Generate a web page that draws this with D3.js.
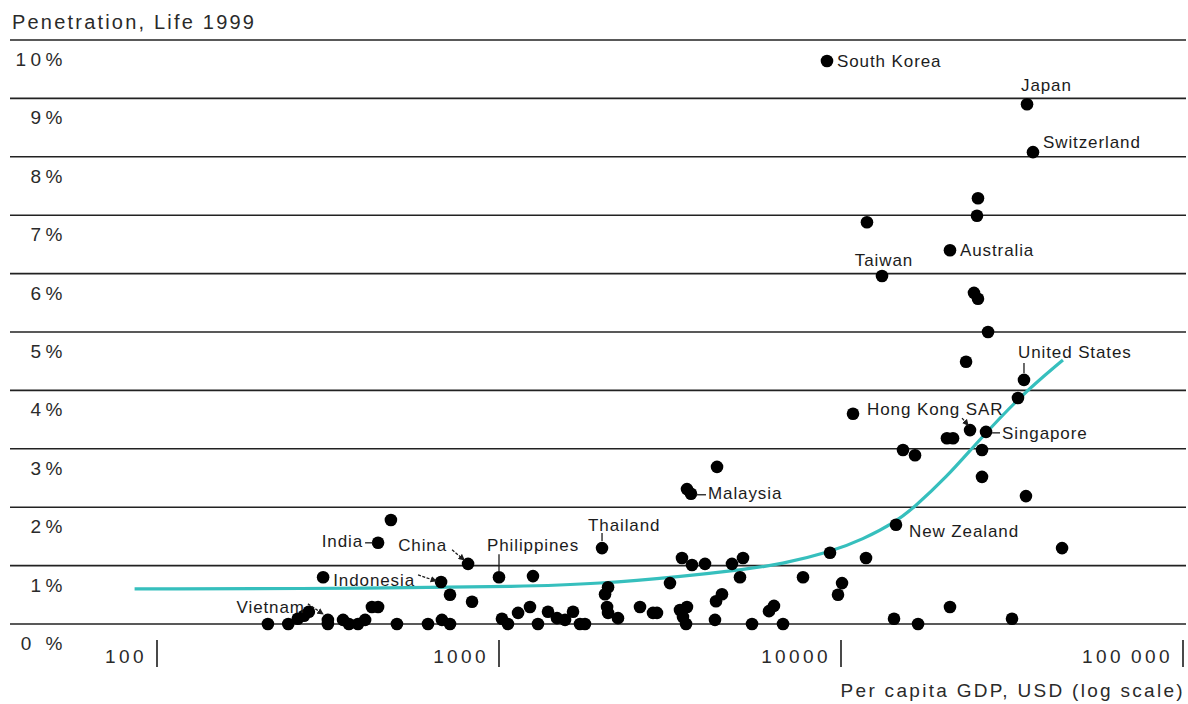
<!DOCTYPE html>
<html>
<head>
<meta charset="utf-8">
<script src="https://cdn.jsdelivr.net/npm/d3@7"></script>
<style>
  html, body { margin: 0; padding: 0; background: #fff; }
  svg { display: block; font-family: "Liberation Sans", Arial, sans-serif; }
</style>
</head>
<body>
<svg id="chart" width="1188" height="704"></svg>
<script>
// ---------------- DATA ----------------
const title = "Penetration, Life 1999";
const xTitle = "Per capita GDP, USD (log scale)";
const yTicks = [0, 1, 2, 3, 4, 5, 6, 7, 8, 9, 10];
const yTickLabels = ["0 %", "1%", "2%", "3%", "4%", "5%", "6%", "7%", "8%", "9%", "10%"];
const xTicks = [100, 1000, 10000, 100000];
const xTickLabels = ["100", "1000", "10000", "100\u2009000"];

// per capita GDP (USD) of each market
const gdpUSD = [211, 242, 258, 269, 278, 316, 316, 350, 364, 387, 406, 425, 443, 503, 620, 681, 719, 719, 677, 306,
  443, 483, 812, 834, 1000, 1257, 1020, 1062, 1137, 1232, 1300, 1391, 1478, 1560, 1646, 1725, 1784, 2001, 2042, 2084,
  2070, 2084, 2228, 2584, 2820, 2897, 3162, 3382, 3545, 3451, 3523, 3428, 3667, 4003, 4800, 5170, 5066, 4311, 4487, 4281,
  5493, 6159, 6368, 6768, 3545, 3642, 4340, 7743, 9287, 10070, 9800, 11833, 10842, 14480, 14290, 16800, 20830, 31623, 44300, 34740,
  25840, 25840, 15180, 16460, 20410, 21260, 23840, 26550, 32920, 34280, 23210, 26910, 24480, 25150, 13180, 20830, 11910, 24980, 25150, 36420,
  34990, 9100];
// life insurance penetration (premiums in % of GDP)
const lifePct = [0, 0, 0.09, 0.14, 0.21, 0.07, 0, 0.07, 0, 0, 0.07, 0.29, 0.29, 0, 0, 0.07, 0, 0.50, 0.72, 0.80,
  1.39, 1.78, 1.03, 0.38, 0.80, 0.82, 0.09, 0, 0.19, 0.29, 0, 0.21, 0.10, 0.07, 0.21, 0, 0, 1.30, 0.51, 0.63,
  0.29, 0.19, 0.10, 0.29, 0.19, 0.19, 0.70, 0.24, 0.29, 0.12, 0, 1.13, 1.01, 1.03, 1.03, 1.13, 0.80, 0.39, 0.51, 0.07,
  0, 0.22, 0.31, 0, 2.31, 2.23, 2.69, 0.80, 1.22, 0.70, 0.50, 1.13, 3.60, 1.70, 0.09, 0, 0.29, 0.09, 1.30, 2.19,
  2.52, 2.98, 2.98, 2.89, 3.18, 3.18, 3.32, 3.29, 3.87, 4.18, 4.49, 5.00, 5.67, 5.57, 5.96, 6.40, 6.88, 6.99, 7.29, 8.08,
  8.90, 9.64];
// names of the labelled markets (index into the arrays above)
const labelIndex = [101, 100, 99, 94, 95, 89, 86, 87, 73, 65, 37, 24, 22, 20, 18, 5];
const labelNames = ["South Korea", "Japan", "Switzerland", "Taiwan", "Australia", "United States", "Hong Kong SAR",
  "Singapore", "New Zealand", "Malaysia", "Thailand", "Philippines", "China", "India", "Indonesia", "Vietnam"];

// trend curve
const trendGdp = [86, 464, 1151, 1972, 3381, 5308, 6631, 9290, 11600, 14380, 16250, 20400, 24660, 33360, 44560];
const trendPct = [0.60, 0.61, 0.64, 0.69, 0.81, 0.94, 1.02, 1.23, 1.45, 1.74, 1.98, 2.52, 3.07, 3.90, 4.52];

// ---------------- LAYOUT / STYLE ----------------
const ink = "#1c1c1c";
const teal = "#36bfbd";
const labelLayout = {
  "South Korea":   { dx: 10,  dy: 6,   anchor: "start" },
  "Japan":         { dx: -6,  dy: -13, anchor: "start" },
  "Switzerland":   { dx: 10,  dy: -4,  anchor: "start" },
  "Taiwan":        { dx: 2,   dy: -10, anchor: "middle" },
  "Australia":     { dx: 10,  dy: 6,   anchor: "start" },
  "United States": { dx: -6,  dy: -22, anchor: "start", leader: [[0, -7], [0, -17]] },
  "Hong Kong SAR": { dx: -103, dy: -15, anchor: "start", leader: [[-2, -5], [-8, -12]], arrow: true },
  "Singapore":     { dx: 16,  dy: 7,   anchor: "start", leader: [[6, 1], [14, 1]] },
  "New Zealand":   { dx: 13,  dy: 12,  anchor: "start" },
  "Malaysia":      { dx: 17,  dy: 5,   anchor: "start", leader: [[5, 1], [15, 1]] },
  "Thailand":      { dx: -14, dy: -17, anchor: "start", leader: [[0, -7], [0, -15]] },
  "Philippines":   { dx: -12, dy: -26, anchor: "start", leader: [[0, -6], [0, -23]] },
  "China":         { dx: -21, dy: -13, anchor: "end", leader: [[-4, -4], [-16, -14]], arrow: true },
  "India":         { dx: -15, dy: 4,   anchor: "end", leader: [[-5, 0], [-13, 0]] },
  "Indonesia":     { dx: -26, dy: 4,   anchor: "end", leader: [[-5, -1], [-23, -7]], arrow: true },
  "Vietnam":       { dx: -23, dy: -7,  anchor: "end", leader: [[-5, -6], [-20, -16]], arrow: true }
};

const svg = d3.select("#chart");
const x = d3.scaleLog().domain([100, 100000]).range([157, 1183]);
const y = d3.scaleLinear().domain([0, 10]).range([624, 40]);

svg.append("defs").append("marker")
  .attr("id", "arr").attr("viewBox", "0 0 6 6").attr("refX", 5).attr("refY", 3)
  .attr("markerWidth", 5).attr("markerHeight", 5).attr("orient", "auto")
  .append("path").attr("d", "M0,0 L6,3 L0,6 z").attr("fill", ink);

// title
svg.append("text").attr("x", 12).attr("y", 29).text(title)
  .attr("font-size", 20).attr("letter-spacing", 2.2).attr("fill", "#2a2a2a");

// horizontal grid lines + y labels
svg.append("g").selectAll("line").data(yTicks).join("line")
  .attr("x1", 10).attr("x2", 1186)
  .attr("y1", d => y(d)).attr("y2", d => y(d))
  .attr("stroke", "#222").attr("stroke-width", 1.6);

svg.append("g").selectAll("text").data(yTicks).join("text")
  .attr("x", 67).attr("y", d => y(d) + 26)
  .attr("text-anchor", "end")
  .attr("font-size", 19).attr("letter-spacing", 4.5).attr("fill", "#2a2a2a")
  .text((d, i) => yTickLabels[i]);

// x ticks
const xg = svg.append("g");
xg.selectAll("line").data(xTicks).join("line")
  .attr("x1", d => x(d)).attr("x2", d => x(d))
  .attr("y1", 640).attr("y2", 667)
  .attr("stroke", ink).attr("stroke-width", 1.6);
xg.selectAll("text").data(xTicks).join("text")
  .attr("x", d => x(d) - 10).attr("y", 663)
  .attr("text-anchor", "end")
  .attr("font-size", 19).attr("letter-spacing", 3.4).attr("fill", "#2a2a2a")
  .text((d, i) => xTickLabels[i]);

svg.append("text").attr("x", 1185).attr("y", 697).attr("text-anchor", "end")
  .attr("font-size", 19).attr("letter-spacing", 2.3).attr("fill", "#2a2a2a")
  .text(xTitle);

// trend curve
const trend = trendGdp.map((g, i) => [x(g), y(trendPct[i])]);
svg.append("path").datum(trend)
  .attr("d", d3.line().curve(d3.curveBasis))
  .attr("fill", "none").attr("stroke", teal).attr("stroke-width", 3.2);

// points
const pts = gdpUSD.map((g, i) => ({ g, p: lifePct[i] }));
svg.append("g").selectAll("circle").data(pts).join("circle")
  .attr("cx", d => x(d.g)).attr("cy", d => y(d.p)).attr("r", 6.3)
  .attr("fill", "#000");

// labels
const lg = svg.append("g");
labelNames.forEach((name, k) => {
  const i = labelIndex[k];
  const px = x(gdpUSD[i]), py = y(lifePct[i]);
  const L = labelLayout[name];
  if (L.leader) {
    const [a, b] = L.leader;
    const ln = lg.append("line")
      .attr("x1", px + b[0]).attr("y1", py + b[1])
      .attr("x2", px + a[0]).attr("y2", py + a[1])
      .attr("stroke", ink).attr("stroke-width", 1.3);
    if (L.arrow) ln.attr("marker-end", "url(#arr)").attr("stroke-dasharray", "3,1.5");
  }
  lg.append("text").attr("x", px + L.dx).attr("y", py + L.dy)
    .attr("text-anchor", L.anchor)
    .attr("font-size", 17).attr("letter-spacing", 0.9).attr("fill", ink)
    .text(name);
});
</script>
</body>
</html>
